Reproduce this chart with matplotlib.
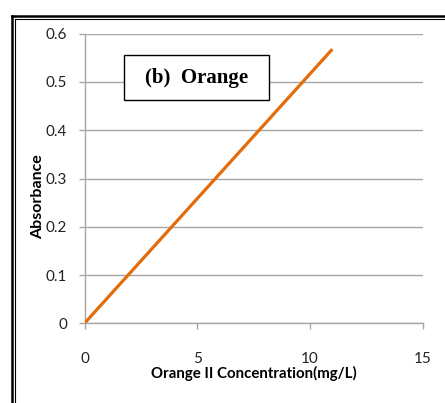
import matplotlib
matplotlib.use("Agg")
import matplotlib.pyplot as plt
from matplotlib.lines import Line2D
from matplotlib.patches import Rectangle

# calibration line for Orange II
concentration = [0, 11]          # mg/L
absorbance = [0, 0.568]

x_ticks = [0, 5, 10, 15]
y_ticks = [0, 0.1, 0.2, 0.3, 0.4, 0.5, 0.6]
y_tick_labels = ["0", "0.1", "0.2", "0.3", "0.4", "0.5", "0.6"]

W, H = 445, 403
fig = plt.figure(figsize=(W / 100, H / 100), dpi=100)
ax = fig.add_axes([84.5 / W, 1 - 323.3 / H, 338 / W, 289.6 / H])

ax.plot(concentration, absorbance, color="#E46C0A", linewidth=2.3,
        solid_capstyle="butt", zorder=3)

ax.set_xlim(0, 15)
ax.set_ylim(0, 0.6)
ax.set_xticks(x_ticks)
ax.set_yticks(y_ticks)
ax.set_yticklabels(y_tick_labels)
ax.yaxis.grid(True, color="#A6A6A6", linewidth=1.0)
ax.set_axisbelow(True)

for side in ["top", "right"]:
    ax.spines[side].set_visible(False)
for side in ["left", "bottom"]:
    ax.spines[side].set_color("#A6A6A6")
    ax.spines[side].set_linewidth(1.0)
ax.tick_params(axis="both", colors="#A6A6A6", labelcolor="#222222",
               labelsize=11, length=4.5, width=1.0)
ax.tick_params(axis="x", pad=16)
ax.tick_params(axis="y", pad=8)
for lab in ax.get_xticklabels() + ax.get_yticklabels():
    lab.set_family("Lato")

ax.set_xlabel("Orange II Concentration(mg/L)", family="Lato",
              fontweight="bold", fontsize=10.8, labelpad=0)
ax.set_ylabel("Absorbance", family="Lato", fontweight="bold",
              fontsize=11.5, labelpad=0)
ax.yaxis.set_label_coords(45 / W, 1 - 197 / H, transform=fig.transFigure)

# label box inside the plot
fig.add_artist(Rectangle((124 / W, 1 - 100 / H), 145 / W, 45 / H,
                         transform=fig.transFigure, facecolor="white",
                         edgecolor="black", linewidth=1.0, zorder=5))
fig.text(196.5 / W, 1 - 78 / H, "(b)  Orange",
         family="Liberation Serif", fontweight="bold", fontsize=15,
         ha="center", va="center", zorder=6)

# double frame on the top and left edge
def px_line(xs, ys, lw):
    fig.add_artist(Line2D([x / W for x in xs], [1 - y / H for y in ys],
                          color="black", linewidth=lw,
                          transform=fig.transFigure))

px_line([11.5, W], [16, 16], 1.8)
px_line([11.5, 11.5], [16, H], 1.8)
px_line([14.8, W], [19.3, 19.3], 0.8)
px_line([14.8, 14.8], [19.3, H], 0.8)

fig.savefig("out.png", dpi=100)
